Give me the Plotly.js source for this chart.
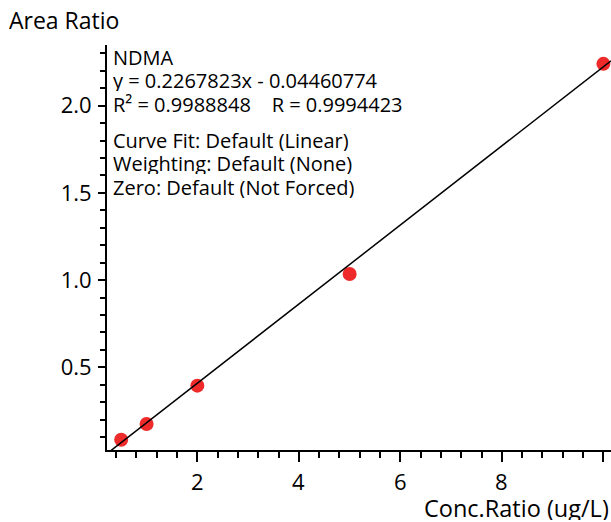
<!DOCTYPE html>
<html>
<head>
<meta charset="utf-8">
<script src="https://cdn.plot.ly/plotly-3.0.1.min.js"></script>
<style>html,body{margin:0;padding:0;background:#fff;}#chart{width:611px;height:522px;}</style>
</head>
<body>
<div id="chart"></div>
<script>
// Calibration data (NDMA)
const compound = "NDMA";
const concRatio = [0.5, 1, 2, 5, 10];
const areaRatio = [0.085, 0.175, 0.395, 1.035, 2.24];
const fitSlope = 0.2267823;
const fitIntercept = -0.04460774;
const fitR2 = "0.9988848";
const fitR = "0.9994423";
const fitInfo = ["Curve Fit: Default (Linear)", "Weighting: Default (None)", "Zero: Default (Not Forced)"];
const xTickVals = [2, 4, 6, 8, 10];
const xTickText = ["2", "4", "6", "8", ""];
const yTickVals = [0.5, 1.0, 1.5, 2.0];
const yTickText = ["0.5", "1.0", "1.5", "2.0"];

const xRange = [0.22, 10.15];
const yRange = [0.026, 2.348];
const L = 107, T = 45, W = 504, H = 405;
const px = v => (v - L) / W;
const py = v => (T + H - v) / H;

const FONT = "Open Sans, Noto Sans, sans-serif";
const fitX = [xRange[0], xRange[1]];
const fitY = fitX.map(x => fitSlope * x + fitIntercept);
const NB = "\u00A0";

const traces = [
  {x: concRatio, y: areaRatio, mode: "markers", type: "scatter",
   marker: {size: 14, color: "#ee2a2a"}, hoverinfo: "skip"},
  {x: fitX, y: fitY, mode: "lines", type: "scatter",
   line: {color: "#000", width: 1.5}, hoverinfo: "skip"}
];

const eq = "y = " + fitSlope.toFixed(7) + "x - " + Math.abs(fitIntercept).toFixed(8);
const r2line = "R² = " + fitR2 + NB + NB + NB + NB + "R = " + fitR;

const infoLines = [compound, eq, r2line].concat(fitInfo);
const infoCenters = [57, 80, 104, 140, 163, 187];
const INFO_FS = 20;

const annotations = [
  {xref: "paper", yref: "paper", x: px(8), y: py(20), xanchor: "left", yanchor: "middle",
   height: 24, borderpad: 0, valign: "middle",
   text: "Area Ratio", showarrow: false, font: {family: FONT, size: 23, color: "#000"}},
  {xref: "paper", yref: "paper", x: px(610), y: py(508), xanchor: "right", yanchor: "middle",
   height: 24, borderpad: 0, valign: "middle",
   text: "Conc.Ratio (ug/L)", showarrow: false, font: {family: FONT, size: 23.5, color: "#000"}}
];
infoLines.forEach((t, i) => {
  annotations.push({xref: "paper", yref: "paper", x: px(112), y: py(infoCenters[i]),
    xanchor: "left", yanchor: "middle", align: "left", valign: "middle",
    height: 21, borderpad: 0, text: t, showarrow: false,
    font: {family: FONT, size: INFO_FS, color: "#000"}});
});
xTickVals.forEach((v, i) => {
  if (!xTickText[i]) return;
  annotations.push({xref: "x", yref: "paper", x: v, y: py(481), xanchor: "center", yanchor: "middle",
    height: 20, borderpad: 0, valign: "middle",
    text: xTickText[i], showarrow: false, font: {family: FONT, size: 22, color: "#000"}});
});

const layout = {
  width: 611, height: 522,
  margin: {l: L, r: 611 - L - W, t: T, b: 522 - T - H, pad: 0},
  paper_bgcolor: "#fff", plot_bgcolor: "#fff",
  showlegend: false,
  font: {family: FONT, color: "#000", size: 22},
  xaxis: {
    range: xRange, showgrid: false, zeroline: false,
    showline: true, linecolor: "#000", linewidth: 2,
    ticks: "outside", ticklen: 10, tickwidth: 2, tickcolor: "#000",
    tickmode: "array", tickvals: xTickVals, showticklabels: false,
    minor: {dtick: 0.4, tick0: 0, ticks: "outside", ticklen: 6, tickwidth: 2, tickcolor: "#000"}
  },
  yaxis: {
    range: yRange, showgrid: false, zeroline: false,
    showline: true, linecolor: "#000", linewidth: 2,
    ticks: "outside", ticklen: 7, tickwidth: 2, tickcolor: "#000",
    tickmode: "array", tickvals: yTickVals, ticktext: yTickText,
    tickfont: {family: FONT, size: 22, color: "#000"},
    ticklabelstandoff: 2,
    minor: {dtick: 0.1, tick0: 0, ticks: "outside", ticklen: 5, tickwidth: 2, tickcolor: "#000"}
  },
  annotations: annotations
};

Plotly.newPlot("chart", traces, layout, {staticPlot: true, displayModeBar: false});
</script>
</body>
</html>
